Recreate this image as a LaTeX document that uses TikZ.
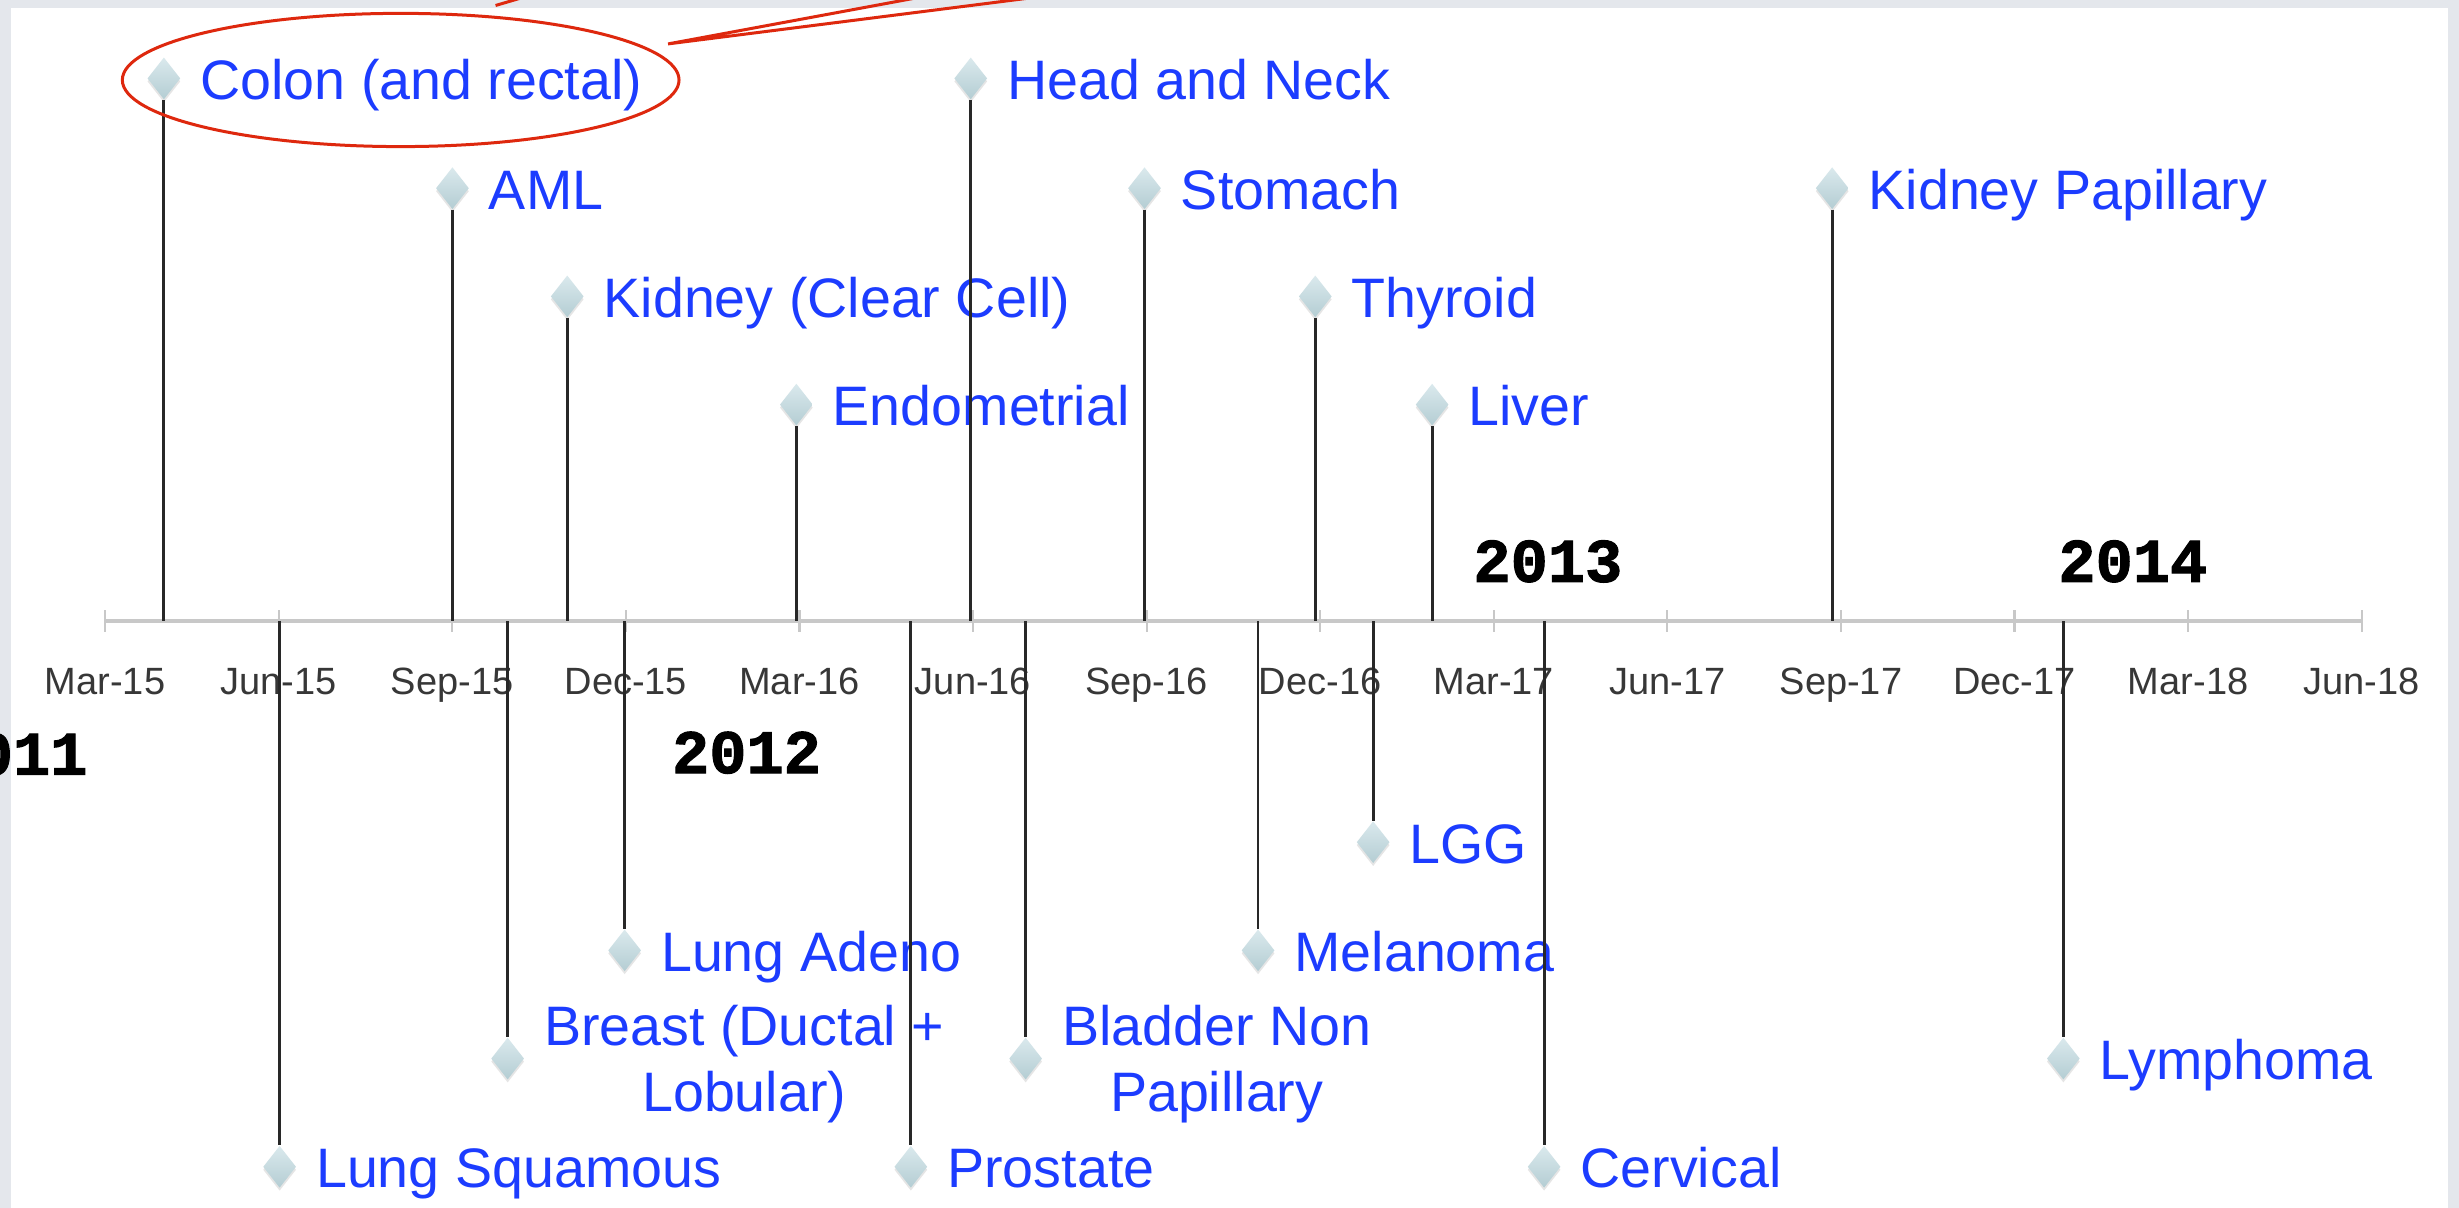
\documentclass[tikz,border=0pt]{standalone}
\usepackage{fontspec}
\setmainfont{Liberation Sans}
\newfontfamily\yearfont{Liberation Mono}[BoldFeatures={FakeBold=1.6}]
\usetikzlibrary{shapes.geometric,shadows}
\definecolor{evblue}{RGB}{28,60,255}
\definecolor{tickgray}{RGB}{55,55,55}
\definecolor{axisgray}{RGB}{200,200,200}
\definecolor{bggray}{RGB}{228,231,236}
\definecolor{stemgray}{RGB}{40,40,40}
\definecolor{calloutred}{RGB}{222,40,14}
\definecolor{gemtop}{RGB}{218,233,237}
\definecolor{gembot}{RGB}{180,205,211}
\begin{document}
\begin{tikzpicture}[x=0.784pt,y=-0.784pt,
  evlabel/.style={font=\fontsize{27.8}{33.3}\selectfont, text=evblue, inner sep=0pt},
  ticklabel/.style={font=\fontsize{19}{22}\selectfont, text=tickgray, inner sep=0pt, anchor=base},
  yearlabel/.style={font=\yearfont\bfseries\fontsize{31}{36}\selectfont, text=black, inner sep=0pt, anchor=base},
  gem/.style={diamond, minimum width=16.5pt, minimum height=21pt, inner sep=0pt,
    top color=gemtop, bottom color=gembot, draw=none,
    drop shadow={opacity=0.2, shadow xshift=0pt, shadow yshift=-1.5pt}},
  stemline/.style={draw=stemgray, line width=1.4pt},
  axisline/.style={draw=axisgray, line width=2.2pt},
  tickmark/.style={draw=axisgray, line width=1.1pt},
  callout/.style={draw=calloutred, line width=1.5pt}
]
\useasboundingbox (0,0) rectangle (1568,770);
% background
\fill[bggray] (0,0) rectangle (1568,770);
\fill[white] (7,5) rectangle (1561,772);

% axis
\coordinate (axL) at (67,396);
\coordinate (axR) at (1506,396);
\draw[axisline] (axL) -- (axR);
\foreach \i/\lab in {0/Mar-15,1/Jun-15,2/Sep-15,3/Dec-15,4/Mar-16,5/Jun-16,6/Sep-16,7/Dec-16,8/Mar-17,9/Jun-17,10/Sep-17,11/Dec-17,12/Mar-18,13/Jun-18}{
  \draw[tickmark] ({67+110.69*\i},389) -- ({67+110.69*\i},403);
  \node[ticklabel] (tick\i) at ({67+110.69*\i},443) {\lab};
}

% years
\node[yearlabel] (y2011) at (8.3,494) {2011};
\node[yearlabel] (y2012) at (476,493) {2012};
\node[yearlabel] (y2013) at (987,371) {2013};
\node[yearlabel] (y2014) at (1360,371) {2014};

% events
\foreach \n/\x/\y/\t in {Colon/104.5/50/{Colon (and rectal)},
  AML/288.5/120/AML,
  KidCC/361.7/189/{Kidney (Clear Cell)},
  Endo/507.8/258/Endometrial,
  HN/619/50/{Head and Neck},
  Stom/729.8/120/Stomach,
  Thy/838.7/189/Thyroid,
  Liver/913.2/258/Liver,
  KidPap/1168.3/120/{Kidney Papillary},
  LungSq/178.3/744/{Lung Squamous},
  LungAd/398.3/606/{Lung Adeno},
  Prost/580.8/744/Prostate,
  Mela/802.2/606/Melanoma,
  LGG/875.6/537/LGG,
  Cerv/984.6/744/Cervical,
  Lymph/1315.7/675/Lymphoma}{
  \node[gem] (d\n) at (\x,\y) {};
  \node[evlabel, anchor=base west] (t\n) at (\x+23,\y+13.5) {\t};
}
% two-line labels
\node[gem] (dBreast) at (323.7,675) {};
\node[evlabel, align=center, anchor=west] (tBreast) at (346.7,678.5) {Breast (Ductal +\\Lobular)};
\node[gem] (dBlad) at (654,675) {};
\node[evlabel, align=center, anchor=west] (tBlad) at (677,678.5) {Bladder Non\\Papillary};

% stems
\foreach \n in {Colon,AML,KidCC,Endo,HN,Stom,Thy,Liver,KidPap}{
  \draw[stemline] (d\n.south) -- (d\n |- axL);
}
\foreach \n in {LungSq,Breast,LungAd,Prost,Blad,Mela,LGG,Cerv,Lymph}{
  \draw[stemline] (d\n |- axL) -- (d\n.north);
}

% highlight ellipse and callout lines
\node[ellipse, draw=calloutred, line width=1.5pt, minimum width=278.3pt, minimum height=66.6pt, inner sep=0pt] (hl) at (255.5,51) {};
\coordinate (tip) at (426,28);
\coordinate (c1) at (604,-5);
\coordinate (c2) at (686,-5);
\draw[callout, line join=miter] (c1) -- (tip) -- (c2);
\coordinate (s1) at (316,3.5);
\coordinate (s2) at (333,-1.5);
\draw[callout] (s1) -- (s2);
\end{tikzpicture}
\end{document}
